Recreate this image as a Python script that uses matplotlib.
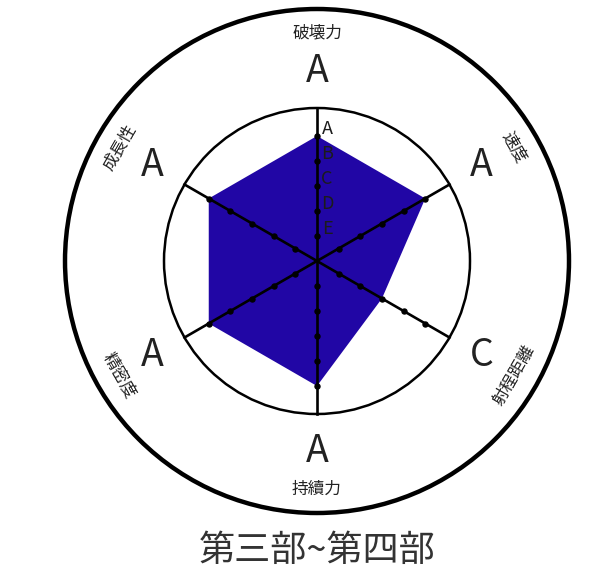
import numpy as np
import matplotlib.pyplot as plt
from matplotlib.patches import Circle, Polygon

plt.rcParams['font.family'] = ['Noto Sans CJK JP', 'DejaVu Sans']

# 数据
categories = ["破壊力", "速度", "射程距離", "持續力", "精密度", "成長性"]
grades = ["A", "A", "C", "A", "A", "A"]
grade_scale = ["E", "D", "C", "B", "A"]          # 1..5
title = "第三部~第四部"

# 画布：像素坐标
W, H = 592, 587
fig = plt.figure(figsize=(W / 100, H / 100), dpi=100)
ax = fig.add_axes([0, 0, 1, 1])
ax.set_xlim(0, W)
ax.set_ylim(H, 0)
ax.set_aspect('equal')
ax.axis('off')

cx, cy = 317, 261
unit = 25            # 每级像素
r_inner = 153
r_outer = 252

angles = np.deg2rad([90, 30, -30, -90, -150, 150])


def pt(r, a):
    return cx + r * np.cos(a), cy - r * np.sin(a)


values = [grade_scale.index(g) + 1 for g in grades]

# 多边形
poly = [pt(v * unit, a) for v, a in zip(values, angles)]
ax.add_patch(Polygon(poly, closed=True, facecolor='#2106a5', edgecolor='none', zorder=2))

# 圆
ax.add_patch(Circle((cx, cy), r_outer, fill=False, lw=3.2, ec='black', zorder=1))
ax.add_patch(Circle((cx, cy), r_inner, fill=False, lw=1.8, ec='black', zorder=1))

# 轴线与刻度点
for a in angles:
    x1, y1 = pt(r_inner, a)
    ax.plot([cx, x1], [cy, y1], color='black', lw=1.9, zorder=3)
    for k in range(1, 6):
        px, py = pt(k * unit, a)
        ax.plot(px, py, 'o', color='black', ms=3.6, zorder=4)

# 刻度字母
for k, g in enumerate(grade_scale, start=1):
    ax.text(cx + 10, cy - k * unit - 7, g, fontsize=13, color='#1c1c1c',
            ha='center', va='center', zorder=5)

# 类别与等级
rots = [0, -60, 60, 0, -60, 60]
for cat, g, a, rot in zip(categories, grades, angles, rots):
    gx, gy = pt(190, a)
    ax.text(gx, gy, g, fontsize=27, color='#222222', ha='center', va='center')
    lx, ly = pt(228, a)
    ax.text(lx, ly, cat, fontsize=12, color='#222222', ha='center', va='center',
            rotation=rot, rotation_mode='anchor')

ax.text(cx, 551, title, fontsize=26, color='#333333', ha='center', va='center')

plt.savefig("out.png", dpi=100)
